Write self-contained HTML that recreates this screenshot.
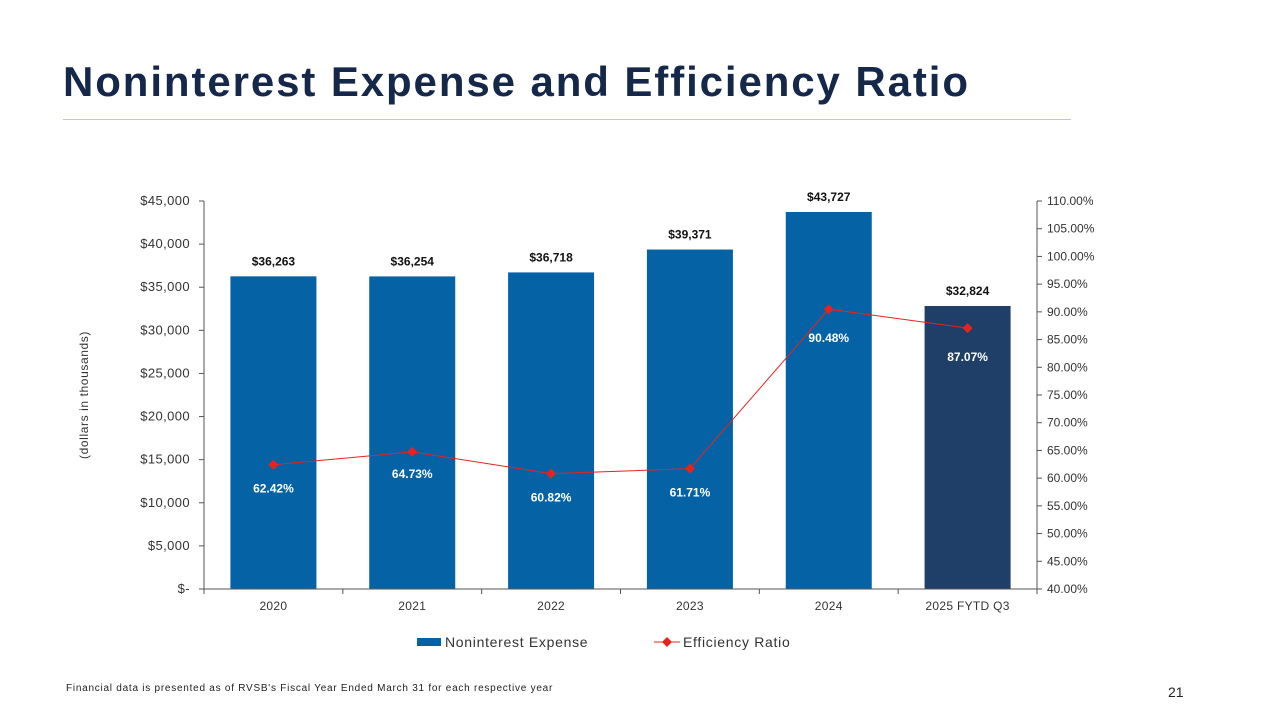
<!DOCTYPE html>
<html><head><meta charset="utf-8">
<style>
body{margin:0;width:1280px;height:720px;background:#fff;overflow:hidden;font-family:"Liberation Sans",sans-serif;}
#title{position:absolute;left:63px;top:58px;font-size:42px;font-weight:bold;color:#16284a;margin:0;letter-spacing:1.9px;}
#rule{position:absolute;left:63px;top:119px;width:1008px;height:1px;background:#c5d96b;}
#foot{position:absolute;left:66px;top:683px;font-size:10px;color:#222;letter-spacing:0.75px;}
#pnum{position:absolute;left:1168px;top:684px;font-size:14px;color:#222;}
svg{position:absolute;left:0;top:0;}
</style></head>
<body>
<h1 id="title">Noninterest Expense and Efficiency Ratio</h1>
<div id="rule"></div>
<svg id="chart" width="1280" height="720"></svg>
<div id="foot">Financial data is presented as of RVSB's Fiscal Year Ended March 31 for each respective year</div>
<div id="pnum">21</div>
<script>
const categories=["2020","2021","2022","2023","2024","2025 FYTD Q3"];
const expense=[36263,36254,36718,39371,43727,32824];
const ratio=[62.42,64.73,60.82,61.71,90.48,87.07];
const leftTicks=[0,5000,10000,15000,20000,25000,30000,35000,40000,45000];
const rightTicks=[40,45,50,55,60,65,70,75,80,85,90,95,100,105,110];

const NS="http://www.w3.org/2000/svg";
const svg=document.getElementById('chart');
const X0=204,X1=1037,Y0=589,Y1=201;
const band=(X1-X0)/categories.length;
const xc=i=>X0+band*(i+0.5);
const yL=v=>Y0-(v/45000)*(Y0-Y1);
const yR=v=>Y0-((v-40)/70)*(Y0-Y1);
function mk(t,a,txt){const e=document.createElementNS(NS,t);for(const k in a)e.setAttribute(k,a[k]);if(txt!==undefined)e.textContent=txt;svg.appendChild(e);return e;}
const fmt=v=>v===0?"$-":"$"+v.toLocaleString('en-US');

let e=mk('line',{x1:X0,y1:Y1,x2:X0,y2:Y0,stroke:'#555'});

e=mk('line',{x1:X1,y1:Y1,x2:X1,y2:Y0,stroke:'#555'});

leftTicks.forEach(v=>{
  mk('line',{x1:X0-5,y1:yL(v),x2:X0,y2:yL(v),stroke:'#555'});
  e=mk('text',{x:X0-14,y:yL(v)+4,'text-anchor':'end','font-size':13,fill:'#333','letter-spacing':0.4},fmt(v));
  
});
rightTicks.forEach(v=>{
  mk('line',{x1:X1,y1:yR(v),x2:X1+5,y2:yR(v),stroke:'#555'});
  e=mk('text',{x:X1+10,y:yR(v)+4,'font-size':12,fill:'#333'},v.toFixed(2)+"%");
  
});
e=mk('text',{x:88,y:(Y0+Y1)/2,'text-anchor':'middle','font-size':12,fill:'#333','letter-spacing':0.6,transform:`rotate(-90 88 ${(Y0+Y1)/2})`},"(dollars in thousands)");


categories.forEach((c,i)=>{
  const y=yL(expense[i]);
  e=mk('rect',{x:xc(i)-43,y:y,width:86,height:Y0-y,fill:i===5?'#1f3f68':'#0563a5'});
  
  e=mk('text',{x:xc(i),y:y-11,'text-anchor':'middle','font-size':12,'font-weight':'bold',fill:'#111'},fmt(expense[i]));
  
});
e=mk('line',{x1:X0,y1:Y0,x2:X1,y2:Y0,stroke:'#555'});

for(let i=0;i<=categories.length;i++)mk('line',{x1:X0+band*i,y1:Y0,x2:X0+band*i,y2:Y0+5,stroke:'#555'});
categories.forEach((c,i)=>{
  e=mk('text',{x:xc(i),y:Y0+21,'text-anchor':'middle','font-size':12,fill:'#333','letter-spacing':0.3},c);
  
});
e=mk('polyline',{points:ratio.map((v,i)=>xc(i)+","+yR(v)).join(" "),fill:'none',stroke:'#e8231c','stroke-width':1});

ratio.forEach((v,i)=>{
  const x=xc(i),y=yR(v);
  e=mk('polygon',{points:`${x},${y-5} ${x+5},${y} ${x},${y+5} ${x-5},${y}`,fill:'#e8231c'});
  
  const ly= i===1? y+26 : (i===4||i===5)? y+33 : y+28;
  e=mk('text',{x:x,y:ly,'text-anchor':'middle','font-size':12,'font-weight':'bold',fill:'#fff'},v.toFixed(2)+"%");
  
});
e=mk('rect',{x:417,y:638,width:24,height:8,fill:'#0563a5'});

e=mk('text',{x:445,y:647,'font-size':14,fill:'#333','letter-spacing':0.7},"Noninterest Expense");

mk('line',{x1:654,y1:642,x2:680,y2:642,stroke:'#e8231c'});
mk('polygon',{points:"667,637 672,642 667,647 662,642",fill:'#e8231c'});
e=mk('text',{x:683,y:647,'font-size':14,fill:'#333','letter-spacing':0.7},"Efficiency Ratio");

</script>
</body></html>
